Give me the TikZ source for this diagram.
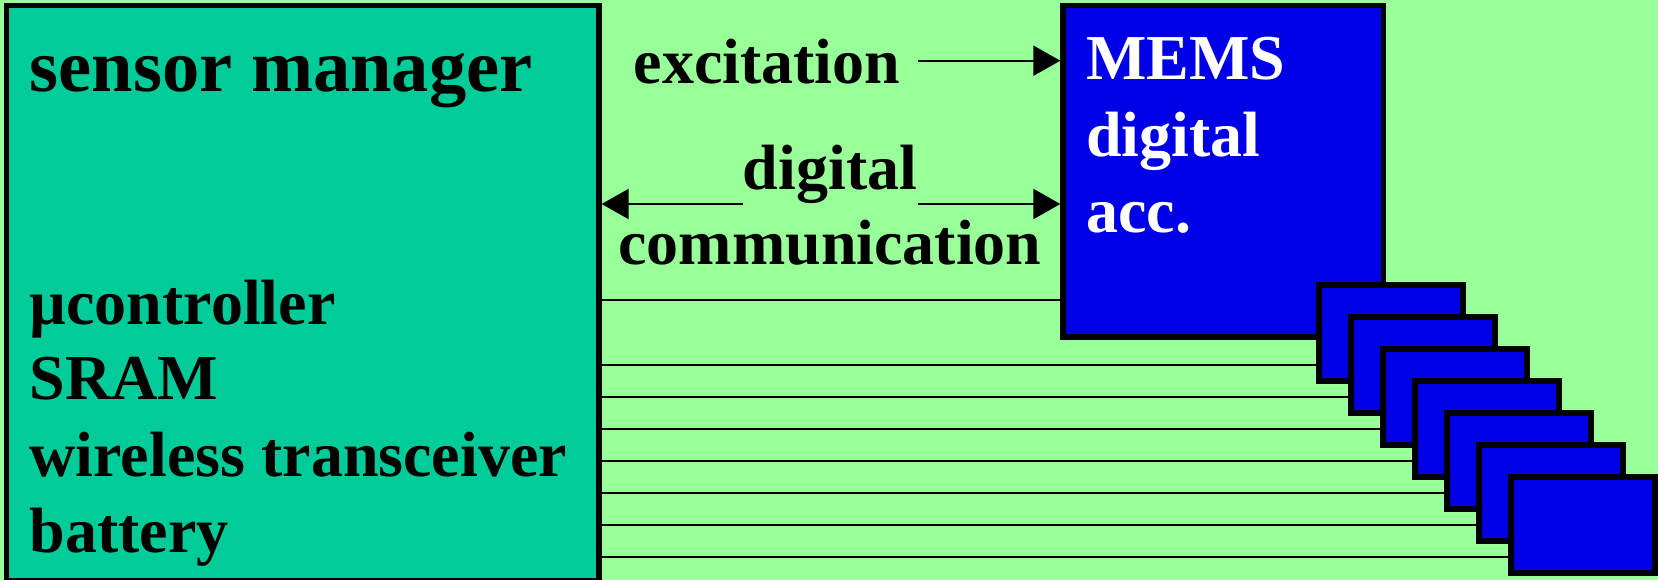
\documentclass[tikz,border=0pt]{standalone}
\usepackage{fontspec}
\setmainfont{Liberation Serif}
\usetikzlibrary{arrows.meta}
\definecolor{bggreen}{HTML}{99FF99}
\definecolor{mgrteal}{HTML}{00CC99}
\definecolor{memsblue}{HTML}{0000E6}
\begin{document}
\begin{tikzpicture}[x=1pt,y=-1pt,
  box/.style={draw=black, line width=5.3pt, rectangle, inner sep=0pt},
  lbl/.style={inner sep=0pt, anchor=base west, font=\bfseries\fontsize{64}{76.8}\selectfont},
  clbl/.style={lbl, anchor=base},
  wire/.style={draw=black, line width=2pt},
  sig/.style={wire, -{Triangle[length=27pt,width=30pt]}},
]
% background
\fill[bggreen] (0,0) rectangle (1658,580);
\useasboundingbox (0,0) rectangle (1658,580);

% sensor manager block
\node[box, fill=mgrteal, minimum width=592.3pt, minimum height=575.2pt] (sensor) at (302.85,293.1) {};
\node[lbl, font=\bfseries\fontsize{74.5}{89}\selectfont] (title) at (29.5,92) {sensor manager};
\node[lbl] (ctl)   at (29.5,324.3) {µcontroller};
\node[lbl] (sram)  at (29.5,399.6) {SRAM};
\node[lbl] (radio) at (29.5,476.2) {wireless transceiver};
\node[lbl] (batt)  at (29.5,552)   {battery};

% accelerometer block and its stacked copies
\node[box, fill=memsblue, minimum width=320.3pt, minimum height=331.5pt] (mems) at (1223.15,171.25) {};
\node[lbl, text=white] (memsA) at (1086,79.3)  {MEMS};
\node[lbl, text=white] (memsB) at (1086,156.7) {digital};
\node[lbl, text=white] (memsC) at (1086,232.7) {acc.};
\foreach \k in {1,...,7}{
  \node[box, fill=memsblue, minimum width=144pt, minimum height=96pt]
    (s\k) at ({1391+32*(\k-1)},{333+32*(\k-1)}) {};
}

% signal labels
\node[clbl] (exc)  at (767,83.3) {excitation};
\node[clbl] (dig)  at (830,190)  {digital};
\node[clbl] (comm) at (830,265)  {communication};

% arrows
\coordinate (excA) at (918,60.7);
\draw[sig] (excA) -- (excA -| mems.west);
\coordinate (dcL) at (743,204);
\coordinate (dcR) at (918,204);
\draw[sig] (dcL) -- (dcL -| sensor.east);
\draw[sig] (dcR) -- (dcR -| mems.west);

% plain wires
\coordinate (ctlwire) at (0,300);
\draw[wire] (ctlwire -| sensor.east) -- (ctlwire -| mems.west);
\foreach \k in {1,...,7}{
  \path (s\k.west) ++(0,31.5) coordinate (t\k);
  \draw[wire] (t\k -| sensor.east) -- (t\k);
}
\end{tikzpicture}
\end{document}
